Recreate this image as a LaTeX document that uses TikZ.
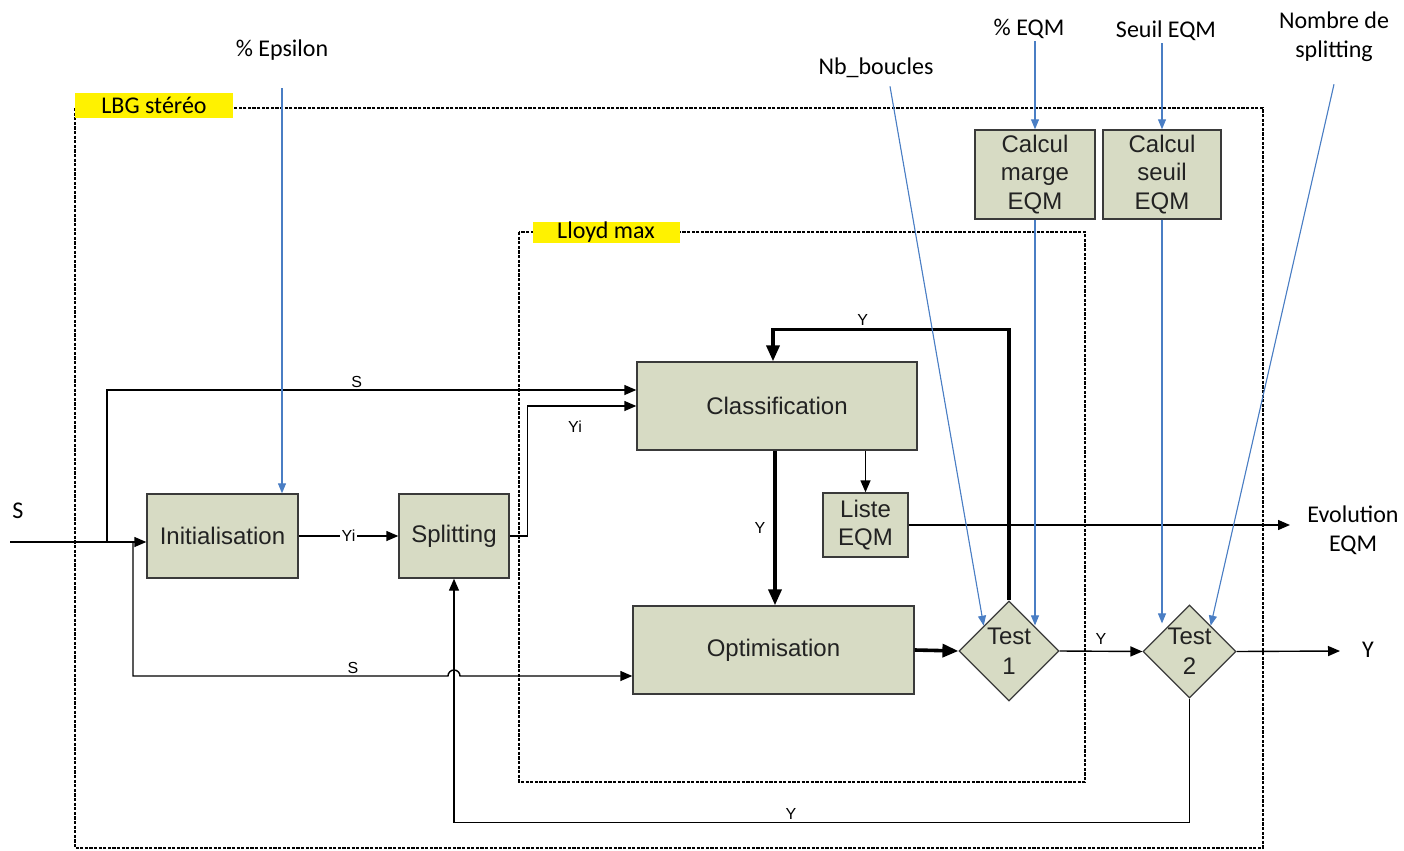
\documentclass[tikz,border=0pt]{standalone}
\usepackage{fontspec}
\setmainfont{Liberation Sans}
\newfontfamily\calibfont{Carlito}
\usepackage{xcolor}
\usepackage{tikz}
\usetikzlibrary{positioning,arrows.meta,shapes.geometric,calc}
\definecolor{BoxFill}{HTML}{D7DBC4}
\definecolor{BoxEdge}{HTML}{3A3A3A}
\definecolor{LineBlue}{HTML}{4A7EC4}
\definecolor{TagYellow}{HTML}{FFF200}
\definecolor{TextDark}{HTML}{222222}

\begin{document}
\begin{tikzpicture}[x=0.5pt,y=-0.5pt,
    blk/.style={draw=BoxEdge,fill=BoxFill,line width=0.7pt,align=center,
                text=TextDark,inner sep=1pt,font=\fontsize{12}{14.25}\selectfont},
    tst/.style={diamond,draw=BoxEdge,fill=BoxFill,line width=0.6pt,align=center,
                text=TextDark,inner sep=0pt,aspect=1,font=\fontsize{12}{15}\selectfont},
    ar/.style={-{Triangle[length=6pt,width=5pt]},line width=0.7pt},
    thk/.style={-{Triangle[length=8pt,width=6.5pt]},line width=1.8pt},
    blu/.style={-{Triangle[length=5pt,width=4pt]},draw=LineBlue,fill=LineBlue,line width=0.55pt},
    frm/.style={draw,line width=0.9pt,dash pattern=on 1.6pt off 0.7pt},
    tag/.style={fill=TagYellow,inner sep=0pt,font=\calibfont\fontsize{12}{14}\selectfont},
    ext/.style={align=center,inner sep=1pt,font=\calibfont\fontsize{12}{14.5}\selectfont},
    lbl/.style={inner sep=1pt,font=\fontsize{8}{9}\selectfont}]
  \useasboundingbox (0,0) rectangle (1404,851);

  % frames
  \draw[frm] (75,108) rectangle (1263,848);
  \node[tag,minimum width=79pt,minimum height=12.5pt] (lbgtag) at (154,105) {LBG stéréo};
  \draw[frm] (519,232) rectangle (1085,782);
  \node[tag,minimum width=73.5pt,minimum height=10.5pt] (lloydtag) at (606,232) {Lloyd max};

  % blocks
  \node[blk,minimum width=75.5pt,minimum height=42pt] (ini) at (222.5,536) {Initialisation};
  \node[blk,minimum width=55pt,minimum height=42pt] (spl) at (454,536) {Splitting};
  \node[blk,minimum width=140pt,minimum height=44pt] (cls) at (777,406) {Classification};
  \node[blk,minimum width=140.5pt,minimum height=44pt] (opt) at (773.5,650) {Optimisation};
  \node[blk,minimum width=42.5pt,minimum height=32pt] (le) at (865.5,525) {Liste\\EQM};
  \node[blk,minimum width=60pt,minimum height=44.5pt] (cm) at (1035,174.5) {Calcul\\marge\\EQM};
  \node[blk,minimum width=59pt,minimum height=44.5pt] (cs) at (1162,174.5) {Calcul\\seuil\\EQM};
  \node[tst,minimum width=50pt,minimum height=50pt] (t1) at (1009,651) {Test\\1};
  \node[tst,minimum width=46.5pt,minimum height=46.5pt] (t2) at (1189.5,651.5) {Test\\2};

  % outside labels
  \node[ext] (eps) at (282,50) {\% Epsilon};
  \node[ext] (nb) at (876,68) {Nb\_boucles};
  \node[ext] (peqm) at (1029,29) {\% EQM};
  \node[ext] (seqm) at (1166,31) {Seuil EQM};
  \node[ext] (nsp) at (1334,37) {Nombre de\\splitting};
  \node[ext] (sin-lbl) at (18,511) {S};
  \node[ext] (evo) at (1353,530) {Evolution\\EQM};
  \node[ext] (yout) at (1368,650) {Y};

  \coordinate (sin) at (10,542);
  \coordinate (br1) at (107,542);
  \coordinate (br2) at (133,542);
  \coordinate (hop) at (454,676);
  \coordinate (evoend) at (1290,525);
  \coordinate (yend) at (1340,651);

  % black connectors
  \draw[ar] (sin) -- ([yshift=-3pt]ini.west);
  \draw[ar] (br1) |- ([yshift=8pt]cls.west) node[lbl,pos=0.736,above] {S};
  \draw[ar] (br2) |- ([xshift=-3pt]hop) arc[start angle=180,end angle=0,radius=3pt]
        -- ([yshift=-13pt]opt.west);
  \node[lbl,above] (s2) at (353,676) {S};
  \draw[ar] (ini.east) -- (spl.west) node[lbl,midway,fill=white] {Yi};
  \draw[ar] (spl.east) -- ++(18,0) |- (cls.west);
  \node[lbl] (yi2) at (575,427) {Yi};
  \draw[ar] (cls.south -| le.north) -- (le.north);
  \draw[ar] (le.east) -- (evoend);
  \draw[thk] (cls.south -| 775,0) -- (775,0 |- opt.north) node[lbl,midway,left=3pt] {Y};
  \draw[thk] (opt.east) -- (t1.west);
  \draw[thk] (t1.north) |- ([yshift=16pt]cls.north -| 773,0) node[lbl,pos=0.81,above] {Y}
        -- (cls.north -| 773,0);
  \draw[ar] (t1.east) -- (t2.west) node[lbl,midway,above=2pt] {Y};
  \draw[ar] (t2.east) -- (yend);
  \draw[ar] (t2.south) -- ++(0,124) -| (spl.south) node[lbl,pos=0.271,above] {Y};

  % blue parameter arrows
  \draw[blu] (eps.south |- 0,88) -- (eps.south |- ini.north);
  \draw[blu] (peqm.south -| cm.north) -- (cm.north);
  \draw[blu] (seqm.south -| cs.north) -- (cs.north);
  \draw[blu] (cm.south) -- (cm.south |- t1.north) -- ++(0,25);
  \draw[blu] (cs.south) -- (cs.south |- t2.north) -- ++(0,19);
  \draw[blu] ([xshift=7pt,yshift=-3pt]nb.south) -- ($(t1.north)!0.5!(t1.west)$);
  \draw[blu] ([yshift=-10pt]nsp.south) -- ($(t2.north)!0.45!(t2.east)$);
\end{tikzpicture}
\end{document}
